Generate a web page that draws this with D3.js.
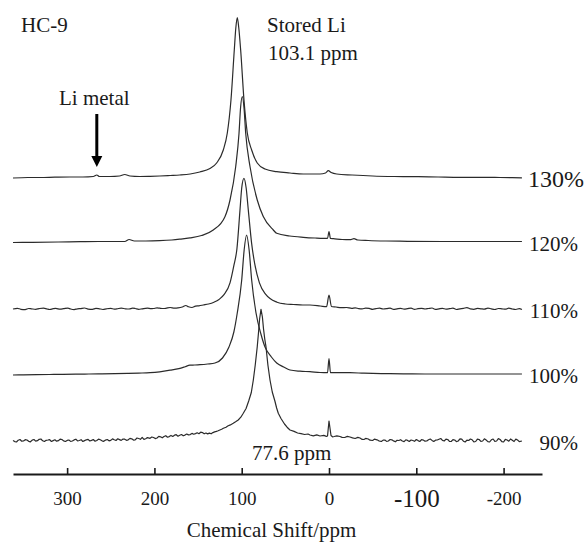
<!DOCTYPE html>
<html>
<head>
<meta charset="utf-8">
<script src="https://cdn.jsdelivr.net/npm/d3@7"></script>
<style>
  body { margin: 0; background: #fff; }
  svg { display: block; }
  svg text { font-family: "Liberation Serif", Tinos, "Times New Roman", Times, "DejaVu Serif", serif; }
</style>
</head>
<body>
<svg id="chart" width="585" height="543"></svg>
<script>
// --- Dữ liệu: [ppm, cường độ (a.u.)] ---
const labels = ["130%", "120%", "110%", "100%", "90%"];
const offsets = [263.5, 199.5, 132, 67, 0];   // độ lệch xếp chồng của từng phổ (a.u.)
const xTicks = [300, 200, 100, 0, -100, -200];

const s130 = [[362,-0.5],[345,0],[331,0],[314,0.3],[297,0.5],[282,0.5],[270,1],[266,2.5],[263,1],[251,1],[240,1.5],[234,3],[228,1.5],[217,1],[205,1.2],[194,1.5],[182,2],[171,2.5],[159,3.5],[148,5.5],[136.4,9],[128.7,14.5],[121.1,27.5],[116.5,44.5],[112.3,77.5],[108.5,127.5],[106.7,150],[105.1,160],[103.4,150],[101.2,127.5],[97.4,77.5],[93.6,44.5],[88.6,27.5],[82.2,14.5],[73.3,8.5],[59.9,5.8],[44.7,4.5],[29.4,3.5],[10.3,3.5],[4,4.5],[0.8,6.8],[-2.5,5],[-8.8,3.5],[-26.4,2.5],[-50,1.5],[-75,1],[-102,0.8],[-125,0.5],[-150,0.2],[-175,0.2],[-196,0],[-221,-0.3]];

const s120 = [[362,-1],[340,-0.8],[310,-0.5],[285,-0.2],[264,0],[245,0],[234,0],[229,2],[223,0.5],[210,0.5],[194,0.8],[180,1.5],[171,2.3],[159.3,3.6],[146,6],[132.6,11.5],[119.2,24.8],[113.4,41.5],[106.9,74.8],[103.1,108],[101.3,134],[99.3,145],[97.4,134],[95.4,108],[90.5,75],[82.2,41.5],[75.3,25],[63.8,11.5],[59.9,8.2],[45,5.5],[29.4,4.2],[16,3.5],[6.5,3.2],[1.7,3.2],[0,9.8],[-1.7,3],[-5,2.8],[-15,2],[-24,1.8],[-28.6,2.8],[-33,1.5],[-45,1],[-65,0.5],[-90,0.2],[-130,0],[-170,0],[-221,0]];

const s110 = [[362,0],[357,0.7],[353,-0.3],[348,-0.6],[344,0.5],[341,0.2],[336,-0.3],[332,0.4],[327,0.9],[323,0],[320,-0.5],[316,0.3],[313,0.6],[308,-0.2],[304,0.3],[299,0.9],[296,0],[292,-0.6],[288,0.2],[285,0.4],[280,1],[276,-0.1],[271,-0.3],[267,0.6],[264,0.4],[259,-0.5],[255,0.2],[250,0.7],[246,-0.1],[243,0.1],[238,0.9],[233,0.2],[229,0],[225,0.8],[222,0.5],[218,-0.3],[214,0.2],[208,0.8],[204,0.3],[201,0.5],[197,1.1],[194,0.8],[190,0.5],[187,0.7],[182,1.5],[177,0.9],[173,1.1],[168,2],[164,3.5],[161,2.2],[157,1.5],[153,2.8],[149,3.2],[144,4],[138,5],[131.8,6.8],[126,9.5],[120.3,14.3],[113.4,26.1],[108.9,43.8],[105.5,60],[102,98.6],[100,121],[97.4,130.7],[94.9,121],[92.4,98.6],[88.6,65.4],[84.8,43.8],[79.7,26.1],[72.2,14.3],[59.6,6.8],[50,5],[40.7,4.5],[30,4],[21.8,4],[10,3],[2.8,2.3],[0,14],[-2.8,2.5],[-8,2],[-14,1.3],[-20,1.5],[-26,0.6],[-30,1.2],[-34,0.4],[-38,0.1],[-42,0.9],[-46,0.6],[-50,-0.3],[-54,0.4],[-58,0.8],[-62,0],[-66,0.3],[-70,0.9],[-74,-0.4],[-78,0.2],[-82,0.7],[-86,-0.1],[-90,0.4],[-94,0.9],[-98,-0.3],[-102,0.3],[-106,0.6],[-110,0],[-114,0.5],[-118,1],[-122,-0.4],[-126,0.2],[-130,0.7],[-134,-0.1],[-138,0.3],[-142,0.8],[-146,-0.5],[-150,0.2],[-154,0.6],[-158,1.4],[-162,0.1],[-166,-0.3],[-170,0.6],[-174,0.2],[-178,-0.2],[-182,0.9],[-186,0.1],[-190,-0.5],[-194,0.5],[-198,0.2],[-202,-0.2],[-206,0.8],[-210,0],[-214,-0.5],[-218,0.4],[-221,-0.5]];

const s100 = [[362,-1],[350,-0.8],[335,-0.6],[320,-0.5],[305,-0.3],[290,-0.2],[275,0],[260,0.2],[245,0.3],[230,0.6],[218,0.9],[205,1.3],[194,2.2],[182,3.8],[172,5.4],[165,7.2],[159.3,8.8],[154,9],[147.8,9.3],[139,10],[130.6,11],[122,16],[114.6,27],[109,42],[105.1,61],[100,94],[97.2,124],[94.4,139],[91.5,124],[88.6,94],[83.6,61],[78,40],[73.3,27],[66,17],[59.9,11],[52,7],[44.7,4],[33.2,2.8],[21.8,2.3],[10.3,1.5],[1.7,1.3],[0,15.5],[-1.7,1.3],[-6,1.3],[-24,1.3],[-40,0.8],[-60,0.4],[-85,0.2],[-110,0],[-140,0],[-170,0],[-200,0],[-221,0]];

const s90 = [[362,0.5],[360,-0.6],[358,-1],[356,0.8],[354,1.5],[352,-0.2],[350,0],[348,1.3],[346,1],[344,-0.3],[342,-0.8],[340,0.9],[338,1.5],[336,-0.1],[334,0.3],[332,1.7],[330,2],[328,0.2],[326,-0.5],[324,0.7],[322,1],[320,1.4],[318,-0.5],[316,0.4],[314,1.2],[312,-0.2],[310,0.3],[308,1.9],[306,1.5],[304,0.1],[302,-0.5],[300,0.6],[298,1],[296,-0.4],[294,0],[292,1.1],[290,1.8],[288,0.1],[286,0.5],[284,1.3],[282,-0.5],[280,0.4],[278,1.2],[276,1.6],[274,0],[272,0.6],[270,1.5],[268,-0.2],[266,0.5],[264,1.9],[262,1.2],[260,0.2],[258,-0.3],[256,0.9],[254,1.5],[252,0.2],[250,0.6],[248,2.1],[246,1.2],[244,0.5],[242,2.2],[240,1.4],[238,0.6],[236,2],[234,1.8],[232,0.7],[230,1.2],[228,2.6],[226,2.2],[224,0.9],[222,1.2],[220,3],[218,2.5],[216,1.7],[214,3.6],[212,1.6],[210,2.2],[208,3.4],[205,2.7],[203,4],[201,3.5],[199,2.4],[197,3],[195,4.6],[193,4.2],[191,3.2],[189,4.5],[187,5.3],[185,3.8],[183,4.4],[181,5.6],[179,4.6],[177,5.8],[175,6.3],[173,4.8],[171,5.7],[169,6.5],[167,5.2],[165,5.9],[163,7],[161,6.1],[159,6.4],[157,7.6],[155,6.8],[153,7.4],[151,8.2],[149,7.3],[147,8.8],[145,8.4],[143,7.2],[141,8],[139,7.1],[137,7.9],[135,7.2],[133,8.4],[131,9.1],[129,9.6],[127,10.2],[125,11],[123,11.7],[121,12.7],[118,13.8],[116,15],[113,16.1],[109.7,17.7],[107,19.2],[104,21],[101,23.8],[98.2,27.7],[95,32.5],[92,40],[89,48.5],[86.7,61],[84.5,76],[82.2,94.3],[80.8,108],[79.5,122],[77.9,131.7],[76.3,124],[75,112],[73.6,102],[72.2,94.3],[70,76],[67.6,61],[65,49],[62,40],[60,33],[58.1,27.7],[55,22.5],[51,17],[48,13.8],[44.7,11],[40,9.6],[36,8],[32,7.4],[28,6.5],[24,7],[21.8,6],[18,5.2],[14,6.1],[10.3,5],[6,5.6],[3,4.6],[1.7,5],[0,20],[-2.3,5.5],[-4,4.2],[-6,4.5],[-9,5.2],[-12.6,4.5],[-15,3.6],[-18,3.5],[-21,4.6],[-24,4],[-27,3.1],[-30,2.5],[-33,3.6],[-35.5,3],[-38,1.6],[-40,1.5],[-42,2.6],[-45,2],[-47,0.8],[-50,0.5],[-52,1.9],[-55,1.2],[-57,0.2],[-60,-0.5],[-62,0.9],[-64,1],[-66,-0.4],[-68,0],[-70,1.5],[-72,1.2],[-74,0.1],[-76,-0.8],[-78,0.7],[-80,0.5],[-82,1.3],[-84,0],[-86,-0.6],[-88,1.2],[-90,0.6],[-92,-0.5],[-94,1],[-96,0.5],[-98,-0.3],[-100,1.5],[-102,0.4],[-104,-0.5],[-106,1.4],[-108,1],[-110,-0.2],[-112,0],[-114,1.3],[-116,2],[-118,0.6],[-120,-0.5],[-122,0.8],[-124,1],[-126,1.8],[-128,2.5],[-130,0.6],[-132,0],[-134,1.9],[-136,1.5],[-138,-0.4],[-140,-0.5],[-142,1.4],[-144,1],[-146,-0.6],[-148,0],[-150,2.1],[-152,1.8],[-154,-0.2],[-156,-1],[-158,0.9],[-160,0.5],[-162,2],[-164,1.2],[-166,-0.8],[-168,-0.5],[-170,1.9],[-172,1.5],[-174,-0.4],[-176,0],[-178,2.2],[-180,1],[-182,-0.6],[-184,-1],[-186,1.2],[-188,2],[-190,-0.3],[-192,0],[-194,2.4],[-196,1.5],[-198,-0.6],[-200,-1],[-202,1.6],[-204,1],[-206,-0.2],[-208,2],[-210,0.8],[-212,-0.5],[-214,1.9],[-216,1],[-218,-0.6],[-221,0]];

const spectra = [s130, s120, s110, s100, s90];

// --- SVG + thang đo ---
const svg = d3.select("#chart");
const ink = "#1a1a1a";

const x = d3.scaleLinear().domain([362, -244]).range([13, 542]);
const y = d3.scaleLinear().domain([0, 424]).range([441, 17]);

// Trục X (vạch chia hướng lên trên)
const axisY = 474;
const gx = svg.append("g")
  .attr("transform", `translate(0,${axisY})`)
  .call(d3.axisBottom(x).tickValues(xTicks).tickSizeInner(-6).tickSizeOuter(0)
    .tickFormat(d => String(d)));

gx.attr("font-family", null);
gx.select(".domain").attr("stroke", ink).attr("stroke-width", 2.2);
gx.selectAll(".tick line").attr("stroke", ink).attr("stroke-width", 1.6);
gx.selectAll(".tick text")
  .attr("dy", 0)
  .attr("y", d => d === -100 ? 32.5 : 31)
  .attr("fill", ink)
  .style("font-size", d => d === -100 ? "25px" : "19px");

// Đường phổ (phổ 90% nhiễu nhiều -> nối thẳng cho răng cưa)
const smooth = d3.line()
  .x(d => x(d[0]))
  .y(d => y(d[1]))
  .curve(d3.curveMonotoneX);
const jagged = d3.line()
  .x(d => x(d[0]))
  .y(d => y(d[1]));

spectra.forEach((s, i) => {
  const off = offsets[i];
  svg.append("path")
    .datum(s.map(d => [d[0], d[1] + off]))
    .attr("fill", "none")
    .attr("stroke", "#2b2b2b")
    .attr("stroke-width", 1.2)
    .attr("stroke-linejoin", "round")
    .attr("d", labels[i] === "90%" ? jagged : smooth);

  // nhãn % bên phải
  svg.append("text")
    .attr("x", labels[i] === "130%" ? 584 : 578)
    .attr("y", y(off) + 9)
    .attr("text-anchor", "end")
    .attr("fill", ink)
    .style("font-size", labels[i] === "130%" ? "24px" : "21px")
    .text(labels[i]);
});

// --- Chú thích ---
const notes = [
  { t: "HC-9", x: 21, y: 32 },
  { t: "Stored Li", x: 267, y: 32 },
  { t: "103.1 ppm", x: 268, y: 60 },
  { t: "Li metal", x: 59, y: 105 },
  { t: "77.6 ppm", x: 252, y: 460 }
];
svg.selectAll("text.note")
  .data(notes)
  .enter().append("text")
    .attr("class", "note")
    .attr("x", d => d.x)
    .attr("y", d => d.y)
    .attr("fill", ink)
    .style("font-size", "21px")
    .text(d => d.t);

// Mũi tên chỉ Li metal
const ax = x(266);
svg.append("line")
  .attr("x1", ax).attr("x2", ax)
  .attr("y1", 114).attr("y2", 158)
  .attr("stroke", "#000").attr("stroke-width", 3);
svg.append("path")
  .attr("d", `M${ax - 5.5},156 L${ax + 5.5},156 L${ax},167 Z`)
  .attr("fill", "#000");

// Tiêu đề trục
svg.append("text")
  .attr("x", 271.5)
  .attr("y", 537)
  .attr("text-anchor", "middle")
  .attr("fill", ink)
  .style("font-size", "21px")
  .text("Chemical Shift/ppm");
</script>
</body>
</html>
